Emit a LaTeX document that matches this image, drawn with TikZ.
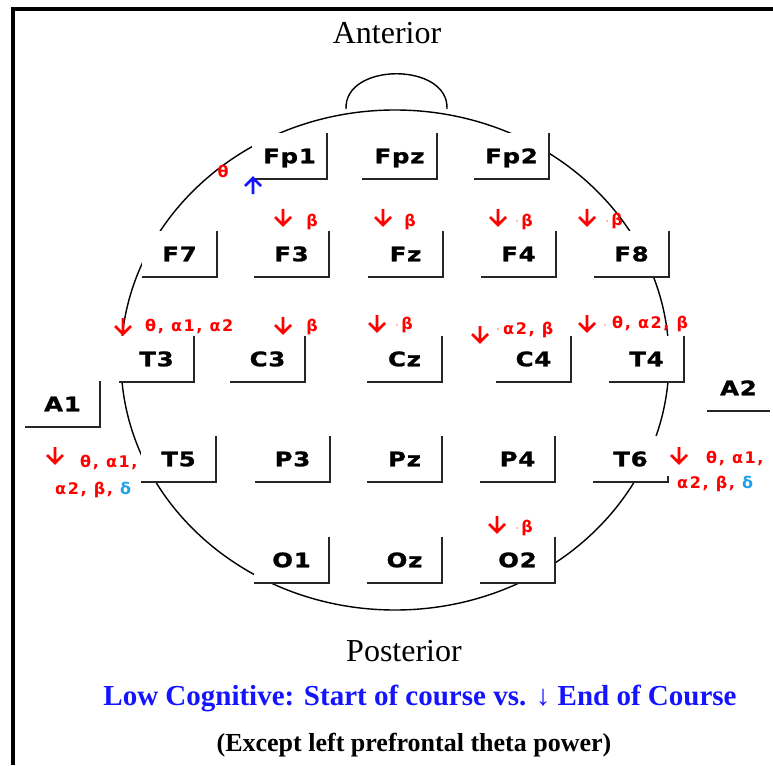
\documentclass[tikz,border=0pt]{standalone}
\usepackage{fontspec}
\setmainfont{Liberation Serif}
\newfontfamily\elfont[FakeStretch=1.22,LetterSpace=4,FakeBold=1.2]{DejaVu Sans}
\newfontfamily\labfont[LetterSpace=10]{DejaVu Sans}
\definecolor{dcyan}{RGB}{30,160,230}
\definecolor{myblue}{RGB}{20,20,255}
\begin{document}
\begin{tikzpicture}[x=1pt,y=-1pt,
  elec/.style={fill=white, inner sep=0pt, minimum width=75pt, minimum height=46pt,
    text height=14.5pt, text depth=0pt, font={\elfont\bfseries\fontsize{20}{24}\selectfont}},
  eline/.style={draw=black!85, line width=2pt},
  headline/.style={draw=black, line width=1.4pt},
  lab/.style={text=red, anchor=west, inner sep=0pt, text height=9.5pt, text depth=0pt,
    font={\labfont\bfseries\fontsize{16}{18}\selectfont}},
  dnarrow/.pic={\draw[red, line width=2.6pt] (0,-8) -- (0,8) (-8,0) -- (0,8) -- (8,0);},
  uparrow/.pic={\draw[myblue, line width=2.6pt] (0,8) -- (0,-8) (-8,0) -- (0,-8) -- (8,0);},
  ttl/.style={inner sep=0pt, anchor=base}
]
\useasboundingbox (0,0) rectangle (773,765);
% frame
\draw[line width=4pt] (13,765) -- (13,9) -- (773,9);
% head and nose
\draw[headline] (395,360) ellipse [x radius=274pt, y radius=250pt];
\draw[headline] (346,109) .. controls (344,62) and (449,62) .. (447,109);

% electrodes
\foreach \n/\x/\y in {Fp1/289.5/156, Fpz/399.5/156, Fp2/511.5/156,
  F7/179.5/254, F3/291.5/254, Fz/405.5/254, F4/518.5/254, F8/631.5/254,
  T3/156.5/359, C3/267.5/359, Cz/404.5/359, C4/533.5/359, T4/646.5/359,
  T5/178.5/459, P3/292.5/459, Pz/404.5/459, P4/517.5/459,
  O1/291.5/560, Oz/404.5/560, O2/517.5/560, A1/62.5/404}{
  \node[elec] (\n) at (\x,\y) {\n};
  \draw[eline] (\n.north east) -- (\n.south east) -- (\n.south west);
}
\node[elec] (T6) at (630.5,459) {T6};
\draw[eline] ([yshift=6pt]T6.south east) -- (T6.south east) -- (T6.south west);
\node[elec, minimum width=63pt] (A2) at (738.5,388) {A2};
\draw[eline] (A2.south east) -- (A2.south west);

% labels
\node[lab, anchor=center] (thFp1) at (223,173) {θ};
\pic at (253,186) {uparrow};

\pic at (283,217) {dnarrow};
\node[lab, anchor=center] (bF3) at (312,222) {β};
\pic at (383,217) {dnarrow};
\node[lab, anchor=center] (bFz) at (410,222) {β};
\pic at (498,217) {dnarrow};
\fill[red!45] (517,221) circle[radius=1pt];
\node[lab, anchor=center] (bF4) at (527,222) {β};
\pic at (587,217) {dnarrow};
\fill[red!45] (607,221) circle[radius=1pt];
\node[lab, anchor=center] (bF8) at (617,221) {β};

\pic at (123,326) {dnarrow};
\node[lab] (lT3) at (145,327) {θ, α1, α2};
\pic at (283,325) {dnarrow};
\node[lab, anchor=center] (bC3) at (312,327) {β};
\pic at (377,323) {dnarrow};
\fill[red!45] (397,325) circle[radius=1pt];
\node[lab, anchor=center] (bCz) at (407,325) {β};
\pic at (480,334) {dnarrow};
\fill[red!45] (498,329) circle[radius=1pt];
\node[lab] (lC4) at (503,330) {α2, β};
\pic at (587,323) {dnarrow};
\fill[red!45] (605,325) circle[radius=1pt];
\node[lab] (lT4) at (612,324) {θ, α2, β};

\pic at (55,455) {dnarrow};
\node[lab] (lT5a) at (80,463) {θ, α1,};
\node[lab] (lT5b) at (55,490) {α2, β, \textcolor{dcyan}{δ}};
\pic at (679,455) {dnarrow};
\node[lab] (lT6a) at (706,459) {θ, α1,};
\node[lab] (lT6b) at (677,484) {α2, β, \textcolor{dcyan}{δ}};

\pic at (497,524) {dnarrow};
\fill[red!45] (517,528) circle[radius=1pt];
\node[lab, anchor=center] (bO2) at (527,528) {β};

% titles
\node[ttl, font=\fontsize{32}{32}\selectfont] (ant) at (387,44) {Anterior};
\node[ttl, font=\fontsize{32}{32}\selectfont] (post) at (404,661) {Posterior};
\node[ttl, text=myblue, font=\bfseries\fontsize{29}{29}\selectfont] (low) at (420,705)
  {Low Cognitive: Start of course vs. ↓ End of Course};
\node[ttl, font=\bfseries\fontsize{26}{26}\selectfont] (exc) at (414,751)
  {(Except left prefrontal theta power)};
\end{tikzpicture}
\end{document}
